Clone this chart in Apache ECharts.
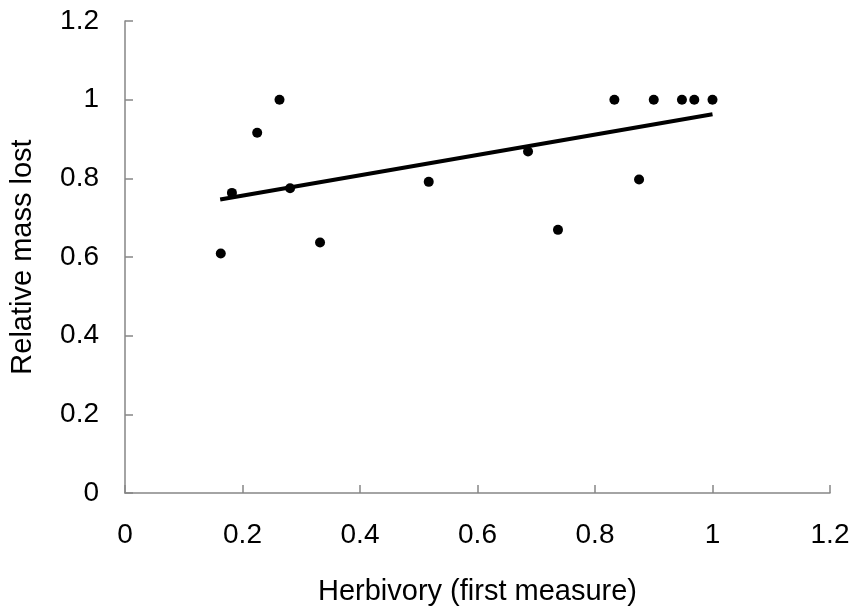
<!DOCTYPE html>
<html>
<head>
<meta charset="utf-8">
<script src="https://cdn.jsdelivr.net/npm/echarts@6/dist/echarts.min.js"></script>
<style>
  html, body { margin: 0; padding: 0; background: #fff; }
  #main { width: 856px; height: 614px; }
</style>
</head>
<body>
<div id="main"></div>
<script>
// herbivory (x) vs relative mass lost (y)
var herbivory = [0.163, 0.182, 0.225, 0.263, 0.281, 0.332, 0.517, 0.686, 0.737, 0.833, 0.875, 0.900, 0.948, 0.969, 1.0];
var massLost  = [0.609, 0.763, 0.916, 1.0, 0.775, 0.637, 0.791, 0.868, 0.669, 1.0, 0.797, 1.0, 1.0, 1.0, 1.0];

// linear trend line end points
var trendX = [0.162, 1.0];
var trendY = [0.746, 0.963];

var points = herbivory.map(function (x, i) { return [x, massLost[i]]; });
var trend = trendX.map(function (x, i) { return [x, trendY[i]]; });

var font = 'Liberation Sans, Arial, sans-serif';
var axisGrey = '#868686';

var myChart = echarts.init(document.getElementById('main'));
myChart.setOption({
    animation: false,
    grid: { left: 125, right: 26, top: 21, bottom: 121 },
    xAxis: {
        type: 'value',
        min: 0, max: 1.2, interval: 0.2,
        name: 'Herbivory (first measure)',
        nameLocation: 'middle',
        nameGap: 84,
        nameTextStyle: { fontFamily: font, fontSize: 29, color: '#000' },
        axisLine: { show: true, lineStyle: { color: axisGrey, width: 1.5 } },
        axisTick: { show: true, inside: true, length: 8, lineStyle: { color: axisGrey, width: 1.5 } },
        axisLabel: {
            fontFamily: font, fontSize: 28, color: '#000', margin: 28,
            formatter: function (v) { return String(Math.round(v * 10) / 10); }
        },
        splitLine: { show: false }
    },
    yAxis: {
        type: 'value',
        min: 0, max: 1.2, interval: 0.2,
        name: 'Relative mass lost',
        nameLocation: 'middle',
        nameGap: 88,
        nameTextStyle: { fontFamily: font, fontSize: 29, color: '#000' },
        axisLine: { show: true, lineStyle: { color: axisGrey, width: 1.5 } },
        axisTick: { show: true, inside: true, length: 8, lineStyle: { color: axisGrey, width: 1.5 } },
        axisLabel: {
            fontFamily: font, fontSize: 28, color: '#000', margin: 26,
            formatter: function (v) { return String(Math.round(v * 10) / 10); }
        },
        splitLine: { show: false }
    },
    series: [{
        type: 'scatter',
        data: points,
        symbol: 'circle',
        symbolSize: 10,
        itemStyle: { color: '#000', opacity: 1 },
        z: 3
    }, {
        type: 'line',
        data: trend,
        symbol: 'none',
        lineStyle: { color: '#000', width: 4 },
        z: 2
    }]
});
</script>
</body>
</html>
